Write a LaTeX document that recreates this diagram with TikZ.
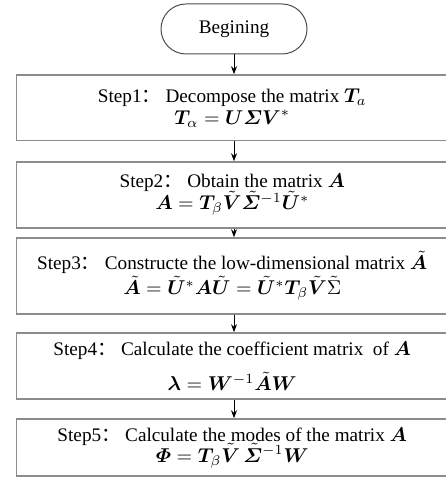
\documentclass[tikz,border=0pt]{standalone}
\usepackage{amsmath, amssymb, bm}
\usepackage{fontspec}
\setmainfont{Liberation Serif}
\newfontfamily\cjk{Noto Sans CJK SC}
\usepackage{tikz}
\usetikzlibrary{arrows.meta}
\definecolor{boxgray}{RGB}{140, 140, 140}
\newcommand{\fc}{{\cjk ：}}

\begin{document}
\begin{tikzpicture}[x=0.5pt, y=-0.5pt, font=\fontsize{9.6}{11.5}\selectfont,
  stepbox/.style={draw=boxgray, line width=0.8pt, minimum width=215.75pt, align=center, inner sep=2pt},
  arr/.style={-{Stealth[length=4pt, width=3pt]}, line width=0.5pt}]
  \useasboundingbox (0,0) rectangle (445,485);

  % start node
  \node[draw=black!70, line width=0.5pt, rounded corners=12.5pt, minimum width=73pt, minimum height=25pt]
    (begin) at (234, 29) {Begining};

  % the five steps
  \node[stepbox, minimum height=32.75pt] (s1) at (232.25, 107.75)
    {Step1\fc\ Decompose the matrix $\bm{T}_a$\\[-0.5pt] $\bm{T}_{\alpha}=\bm{U}\bm{\varSigma}\bm{V}^{*}$};
  \node[stepbox, minimum height=33pt] (s2) at (232.25, 195)
    {Step2\fc\ Obtain the matrix $\bm{A}$\\[-0.5pt] $\bm{A}=\bm{T}_{\beta}\tilde{\bm{V}}\tilde{\bm{\varSigma}}^{-1}\tilde{\bm{U}}^{*}$};
  \node[stepbox, minimum height=38pt] (s3) at (232.25, 276)
    {Step3\fc\ Constructe the low-dimensional matrix $\tilde{\bm{A}}$\\[1pt] $\tilde{\bm{A}}=\tilde{\bm{U}}^{*}\bm{A}\tilde{\bm{U}}=\tilde{\bm{U}}^{*}\bm{T}_{\beta}\tilde{\bm{V}}\tilde{\Sigma}$};
  \node[stepbox, minimum height=33pt] (s4) at (232.25, 366)
    {Step4\fc\ Calculate the coefficient matrix\ \ of $\bm{A}$\\[6pt] $\bm{\lambda}=\bm{W}^{-1}\tilde{\bm{A}}\bm{W}$};
  \node[stepbox, minimum height=28.5pt] (s5) at (232.25, 447.5)
    {Step5\fc\ Calculate the modes of the matrix $\bm{A}$\\[-1pt] $\bm{\varPhi}=\bm{T}_{\beta}\tilde{\bm{V}}\,\tilde{\bm{\varSigma}}^{-1}\bm{W}$};

  % arrows
  \draw[arr] (begin.south) -- (begin.south |- s1.north);
  \foreach \a/\b in {s1/s2, s2/s3, s3/s4, s4/s5}
    \draw[arr] (\a.south -| begin) -- (\b.north -| begin);
\end{tikzpicture}
\end{document}
